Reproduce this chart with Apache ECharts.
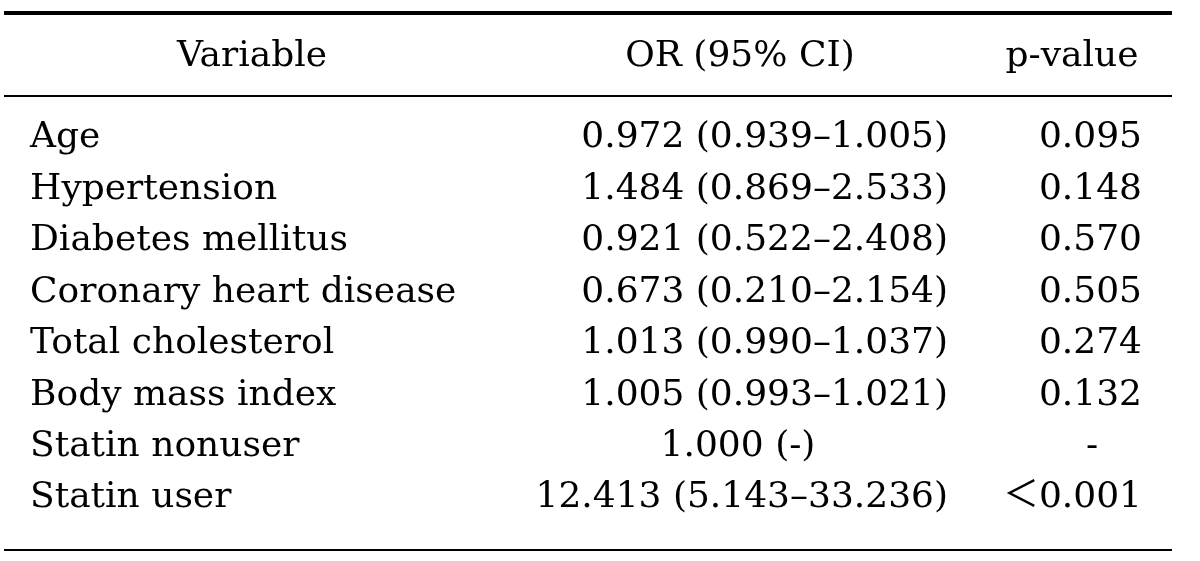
<!DOCTYPE html>
<html>
<head>
<meta charset="utf-8">
<script src="https://cdn.jsdelivr.net/npm/echarts@6/dist/echarts.min.js"></script>
<style>
html,body{margin:0;padding:0;background:#fff;}
#chart{width:1200px;height:561px;}
</style>
</head>
<body>
<div id="chart"></div>
<script>
// ---- data ----
const headers = ['Variable', 'OR (95% CI)', 'p-value'];
const variables = ['Age', 'Hypertension', 'Diabetes mellitus', 'Coronary heart disease',
  'Total cholesterol', 'Body mass index', 'Statin nonuser', 'Statin user'];
const orValues = ['0.972', '1.484', '0.921', '0.673', '1.013', '1.005', '1.000', '12.413'];
const ciLower = ['0.939', '0.869', '0.522', '0.210', '0.990', '0.993', null, '5.143'];
const ciUpper = ['1.005', '2.533', '2.408', '2.154', '1.037', '1.021', null, '33.236'];
const pValues = ['0.095', '0.148', '0.570', '0.505', '0.274', '0.132', '-', '\uFF1C0.001'];

// ---- layout (styles, not data) ----
const FONT = '"DejaVu Serif", "Noto Sans CJK JP", serif';
const FONT_SIZE = 36;
const HEADER_ROW = -1.575;
const colLayout = [
  { header: 252, headerAlign: 'center', body: 30, bodyAlign: 'left', centerAt: 30 },
  { header: 740, headerAlign: 'center', body: 948, bodyAlign: 'right', centerAt: 738 },
  { header: 1072, headerAlign: 'center', body: 1142, bodyAlign: 'right', centerAt: 1092 }
];

// build cells from data arrays
const cells = [];
headers.forEach((h, c) => cells.push({ col: c, row: HEADER_ROW, text: h, header: true }));
variables.forEach((v, r) => {
  cells.push({ col: 0, row: r, text: v });
  const ci = (ciLower[r] != null) ? ' (' + ciLower[r] + '\u2013' + ciUpper[r] + ')' : ' (-)';
  cells.push({ col: 1, row: r, text: orValues[r] + ci, centered: ciLower[r] == null });
  cells.push({ col: 2, row: r, text: pValues[r], centered: pValues[r] === '-' });
});

const seriesData = cells.map(cell => {
  const L = colLayout[cell.col];
  const x = cell.header ? L.header : (cell.centered ? L.centerAt : L.body);
  return [x, cell.row];
});

const chart = echarts.init(document.getElementById('chart'), null, { renderer: 'canvas' });
chart.setOption({
  backgroundColor: '#ffffff',
  animation: false,
  grid: { left: 0, right: 0, top: 35.14, bottom: 11.57 },
  xAxis: { type: 'value', min: 0, max: 1200, show: false },
  yAxis: { type: 'value', min: -2, max: 8, inverse: true, show: false },
  graphic: [
    { type: 'line', shape: { x1: 4, y1: 13, x2: 1172, y2: 13 }, style: { stroke: '#000', lineWidth: 4 } },
    { type: 'line', shape: { x1: 4, y1: 96, x2: 1172, y2: 96 }, style: { stroke: '#000', lineWidth: 2 } },
    { type: 'line', shape: { x1: 4, y1: 550, x2: 1172, y2: 550 }, style: { stroke: '#000', lineWidth: 2 } }
  ],
  series: [{
    type: 'custom',
    clip: false,
    data: seriesData,
    renderItem: function (params, api) {
      const cell = cells[params.dataIndex];
      const p = api.coord([api.value(0), api.value(1)]);
      const L = colLayout[cell.col];
      const align = cell.header ? L.headerAlign : (cell.centered ? 'center' : L.bodyAlign);
      return {
        type: 'text',
        x: p[0],
        y: p[1],
        style: {
          text: cell.text,
          fill: '#000',
          font: FONT_SIZE + 'px ' + FONT,
          align: align,
          verticalAlign: 'middle'
        }
      };
    }
  }]
});
</script>
</body>
</html>
